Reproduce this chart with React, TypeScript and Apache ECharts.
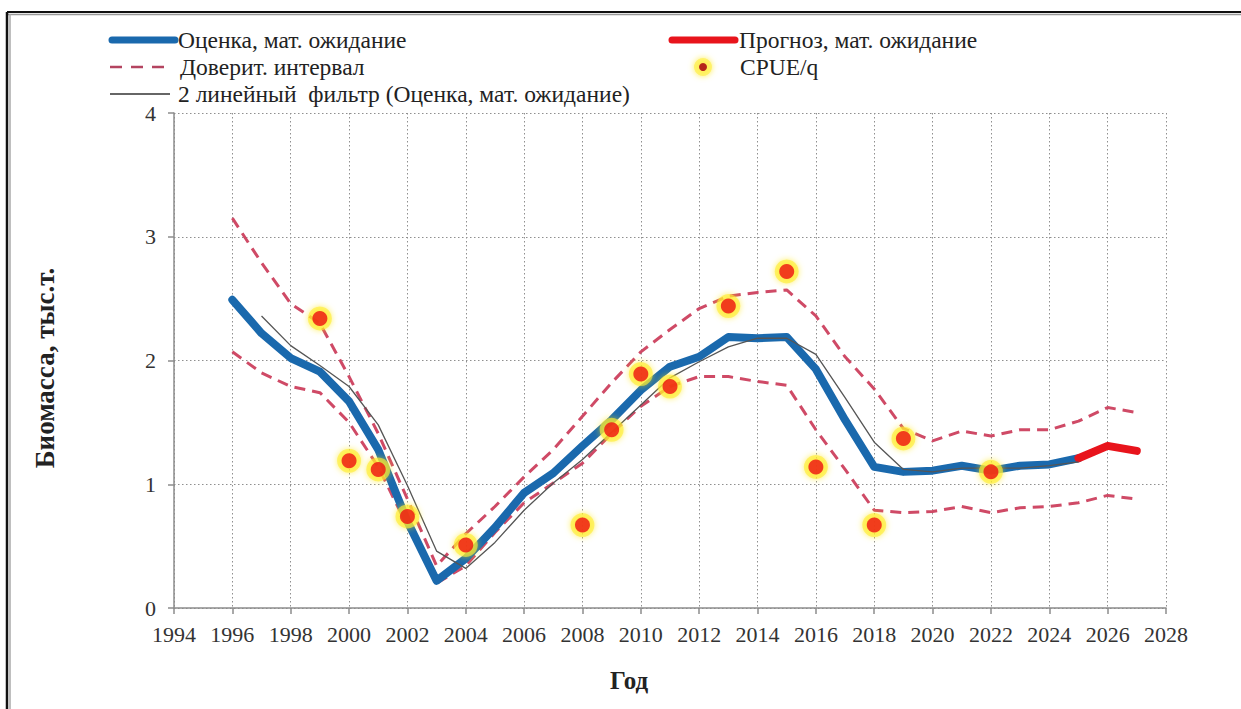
import React, { useEffect, useRef } from "react";
import * as echarts from "echarts";

// ---- data ----
const estimateYears = [1996, 1997, 1998, 1999, 2000, 2001, 2002, 2003, 2004, 2005, 2006, 2007, 2008, 2009, 2010, 2011, 2012, 2013, 2014, 2015, 2016, 2017, 2018, 2019, 2020, 2021, 2022, 2023, 2024, 2025];
const estimate = [2.49, 2.22, 2.02, 1.91, 1.67, 1.28, 0.70, 0.22, 0.40, 0.65, 0.93, 1.09, 1.31, 1.52, 1.76, 1.95, 2.03, 2.19, 2.18, 2.19, 1.93, 1.52, 1.14, 1.10, 1.11, 1.15, 1.11, 1.15, 1.16, 1.21];

const forecastYears = [2025, 2026, 2027];
const forecast = [1.21, 1.31, 1.27];

const ciYears = [1996, 1997, 1998, 1999, 2000, 2001, 2002, 2003, 2004, 2005, 2006, 2007, 2008, 2009, 2010, 2011, 2012, 2013, 2014, 2015, 2016, 2017, 2018, 2019, 2020, 2021, 2022, 2023, 2024, 2025, 2026, 2027];
const ciUpper = [3.15, 2.79, 2.46, 2.30, 1.87, 1.41, 0.88, 0.34, 0.60, 0.82, 1.06, 1.28, 1.55, 1.82, 2.07, 2.25, 2.42, 2.52, 2.55, 2.57, 2.36, 2.03, 1.77, 1.45, 1.35, 1.43, 1.39, 1.44, 1.44, 1.51, 1.62, 1.58];
const ciLower = [2.07, 1.90, 1.79, 1.74, 1.50, 1.14, 0.66, 0.20, 0.34, 0.61, 0.85, 1.01, 1.17, 1.41, 1.63, 1.79, 1.87, 1.87, 1.83, 1.80, 1.44, 1.12, 0.79, 0.77, 0.78, 0.82, 0.77, 0.81, 0.82, 0.85, 0.91, 0.88];

const filterYears = [1997, 1998, 1999, 2000, 2001, 2002, 2003, 2004, 2005, 2006, 2007, 2008, 2009, 2010, 2011, 2012, 2013, 2014, 2015, 2016, 2017, 2018, 2019, 2020, 2021, 2022, 2023, 2024, 2025];
const filter2 = [2.36, 2.12, 1.96, 1.79, 1.48, 0.99, 0.46, 0.32, 0.53, 0.79, 1.01, 1.20, 1.42, 1.64, 1.86, 1.99, 2.11, 2.18, 2.18, 2.05, 1.70, 1.34, 1.12, 1.10, 1.13, 1.13, 1.13, 1.15, 1.18];

const cpueYears = [1999, 2000, 2001, 2002, 2004, 2008, 2009, 2010, 2011, 2013, 2015, 2016, 2018, 2019, 2022];
const cpue = [2.34, 1.19, 1.12, 0.74, 0.51, 0.67, 1.44, 1.89, 1.79, 2.44, 2.72, 1.14, 0.67, 1.37, 1.10];

const xTickMin = 1994;
const xTickMax = 2028;

const names = {
  estimate: "Оценка, мат. ожидание",
  forecast: "Прогноз, мат. ожидание",
  ci: "Доверит. интервал",
  cpue: "CPUE/q",
  filter: "2 линейный  фильтр (Оценка, мат. ожидание)",
  yTitle: "Биомасса, тыс.т.",
  xTitle: "Год",
};

const pairs = (xs: number[], ys: number[]) => xs.map((x, i) => [x, ys[i]]);

const FONT = "Liberation Serif, Times New Roman, serif";
const BLUE = "#1a69ad";
const RED = "#e8141c";
const DASH = "#cf4a66";

export default function App() {
  const ref = useRef<HTMLDivElement>(null);
  useEffect(() => {
    if (!ref.current) return;
    const chart = echarts.init(ref.current, null, { renderer: "svg" });
    const gridLine = { show: true, lineStyle: { color: "#8f8f8f", width: 1, type: [1.5, 2.5] } };
    const axisLine = { show: true, lineStyle: { color: "#8c8c8c", width: 1.5 } };
    const legendText = (x: number, y: number, text: string) => ({
      type: "text",
      x,
      y,
      style: { text, fill: "#222", font: `23.5px ${FONT}`, verticalAlign: "middle", align: "left" },
    });
    chart.setOption({
      animation: false,
      backgroundColor: "#ffffff",
      grid: { left: 174, right: 75, top: 113, bottom: 101 },
      xAxis: {
        type: "value",
        min: xTickMin,
        max: xTickMax,
        interval: 2,
        axisLine,
        axisTick: { show: true, length: 6, lineStyle: { color: "#8c8c8c", width: 1.5 } },
        axisLabel: { formatter: (v: number) => String(v), color: "#333", fontSize: 22, fontFamily: FONT, margin: 15 },
        splitLine: gridLine,
      },
      yAxis: {
        type: "value",
        min: 0,
        max: 4,
        interval: 1,
        axisLine,
        axisTick: { show: true, length: 6, lineStyle: { color: "#8c8c8c", width: 1.5 } },
        axisLabel: { color: "#333", fontSize: 22, fontFamily: FONT, margin: 18 },
        splitLine: gridLine,
      },
      series: [
        {
          name: names.ci,
          type: "line",
          data: pairs(ciYears, ciUpper),
          symbol: "none",
          lineStyle: { color: DASH, width: 3, type: [11, 7] },
          z: 2,
        },
        {
          name: names.ci + " ",
          type: "line",
          data: pairs(ciYears, ciLower),
          symbol: "none",
          lineStyle: { color: DASH, width: 3, type: [11, 7] },
          z: 2,
        },
        {
          name: names.estimate,
          type: "line",
          data: pairs(estimateYears, estimate),
          symbol: "none",
          lineStyle: { color: BLUE, width: 8, cap: "round", join: "round" },
          z: 3,
        },
        {
          name: names.forecast,
          type: "line",
          data: pairs(forecastYears, forecast),
          symbol: "none",
          lineStyle: { color: RED, width: 8, cap: "round", join: "round" },
          z: 3,
        },
        {
          name: names.filter,
          type: "line",
          data: pairs(filterYears, filter2),
          symbol: "none",
          lineStyle: { color: "#555", width: 1.3 },
          z: 4,
        },
        {
          name: names.cpue + " halo",
          type: "scatter",
          data: pairs(cpueYears, cpue),
          symbol: "circle",
          symbolSize: 24,
          itemStyle: {
            color: "rgba(255,238,50,0.8)",
            shadowBlur: 6,
            shadowColor: "rgba(255,230,0,0.9)",
          },
          z: 5,
        },
        {
          name: names.cpue,
          type: "scatter",
          data: pairs(cpueYears, cpue),
          symbol: "circle",
          symbolSize: 15,
          itemStyle: { color: "#ee1010" },
          z: 6,
        },
      ],
      graphic: [
        // frame
        { type: "line", shape: { x1: 7, y1: 12, x2: 1241, y2: 12 }, style: { stroke: "#111", lineWidth: 2 } },
        { type: "line", shape: { x1: 7, y1: 14.5, x2: 1241, y2: 14.5 }, style: { stroke: "#999", lineWidth: 1.5 } },
        { type: "line", shape: { x1: 7, y1: 12, x2: 7, y2: 709 }, style: { stroke: "#111", lineWidth: 2.5 } },
        { type: "line", shape: { x1: 10, y1: 14, x2: 10, y2: 709 }, style: { stroke: "#aaa", lineWidth: 1.5 } },
        // legend left column
        { type: "line", shape: { x1: 112, y1: 40, x2: 175, y2: 40 }, style: { stroke: BLUE, lineWidth: 7, lineCap: "round" } },
        legendText(178, 40, names.estimate),
        { type: "line", shape: { x1: 110, y1: 67, x2: 164, y2: 67 }, style: { stroke: "#b44460", lineWidth: 2.5, lineDash: [12, 9] } },
        legendText(180, 67, names.ci),
        { type: "line", shape: { x1: 110, y1: 94, x2: 170, y2: 94 }, style: { stroke: "#333", lineWidth: 1.3 } },
        legendText(178, 94, names.filter),
        // legend right column
        { type: "line", shape: { x1: 672, y1: 40, x2: 735, y2: 40 }, style: { stroke: RED, lineWidth: 7, lineCap: "round" } },
        legendText(739, 40, names.forecast),
        { type: "circle", shape: { cx: 703, cy: 67, r: 9 }, style: { fill: "rgba(255,240,80,0.75)", shadowBlur: 6, shadowColor: "rgba(255,230,0,0.9)" } },
        { type: "circle", shape: { cx: 703, cy: 67, r: 4 }, style: { fill: "#b5251a" } },
        legendText(740, 67, names.cpue),
        // axis titles
        {
          type: "text",
          x: 45,
          y: 368,
          rotation: Math.PI / 2,
          style: { text: names.yTitle, fill: "#222", font: `bold 27px ${FONT}`, align: "center", verticalAlign: "middle" },
        },
        {
          type: "text",
          x: 629,
          y: 680,
          style: { text: names.xTitle, fill: "#222", font: `bold 25px ${FONT}`, align: "center", verticalAlign: "middle" },
        },
      ],
    });
    return () => chart.dispose();
  }, []);
  return <div ref={ref} style={{ position: "fixed", left: 0, top: 0, width: 1241, height: 709 }} />;
}
